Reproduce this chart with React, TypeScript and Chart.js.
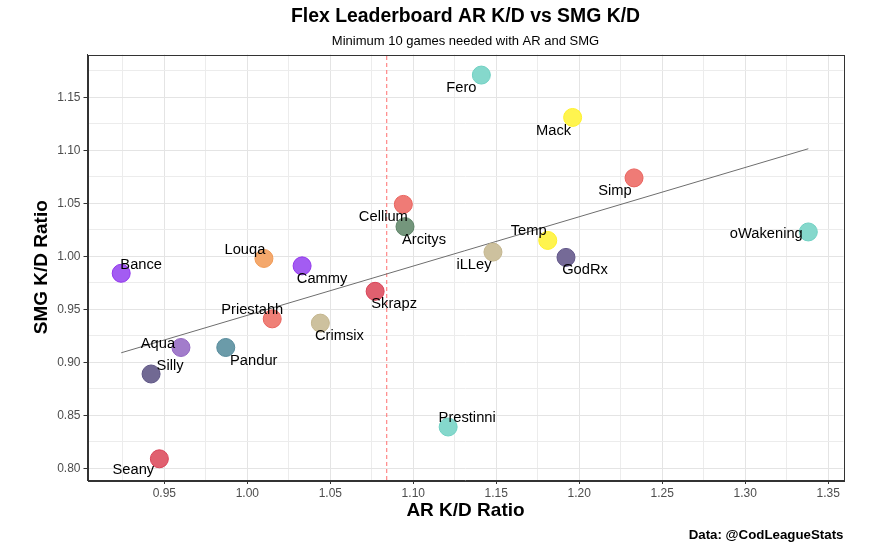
import { useEffect, useRef } from 'react'
import { Chart, registerables } from 'chart.js'

Chart.register(...registerables)

// players and their K/D ratios
const players = [
  'Bance', 'Louqa', 'Cammy', 'Cellium', 'Arcitys', 'Skrapz', 'Fero', 'Mack', 'Simp', 'Temp',
  'iLLey', 'GodRx', 'oWakening', 'Priestahh', 'Crimsix', 'Aqua', 'Pandur', 'Silly', 'Seany', 'Prestinni',
]
const arKD = [
  0.924, 1.010, 1.033, 1.094, 1.095, 1.077, 1.141, 1.196, 1.233, 1.181,
  1.148, 1.192, 1.338, 1.015, 1.044, 0.960, 0.987, 0.942, 0.947, 1.121,
]
const smgKD = [
  0.984, 0.998, 0.991, 1.049, 1.028, 0.967, 1.171, 1.131, 1.074, 1.015,
  1.004, 0.999, 1.023, 0.941, 0.937, 0.914, 0.914, 0.889, 0.809, 0.839,
]

// mean AR K/D (dashed line) and linear trend end points
const arMean = 1.084
const trendAR = [0.924, 1.338]
const trendSMG = [0.909, 1.1015]

// ticks (major every 0.05, minor in between)
const xTicks = [0.925, 0.95, 0.975, 1.0, 1.025, 1.05, 1.075, 1.1, 1.125, 1.15, 1.175, 1.2, 1.225, 1.25, 1.275, 1.3, 1.325, 1.35]
const yTicks = [0.8, 0.825, 0.85, 0.875, 0.9, 0.925, 0.95, 0.975, 1.0, 1.025, 1.05, 1.075, 1.1, 1.125, 1.15, 1.175]

const X_MIN = 0.9037
const X_MAX = 1.3592
const Y_MIN = 0.789
const Y_MAX = 1.1904

// styling
const pointFill = [
  '#a35cf2', '#f4a86c', '#a35cf2', '#ef7b76', '#74967c', '#e0606f', '#85d8cc', '#fff44f', '#ef7b76', '#fff44f',
  '#cdc19e', '#756a97', '#85d8cc', '#ef8077', '#cdc19e', '#a27ccb', '#6b9ba9', '#716993', '#e0606f', '#85d8cc',
]
const pointLine = [
  '#9236ec', '#f09a55', '#9236ec', '#e9625d', '#5c8366', '#d94257', '#6fd0c2', '#fff12a', '#e9625d', '#fff12a',
  '#c4b68e', '#62578a', '#6fd0c2', '#e9625d', '#c4b68e', '#9366c2', '#558a9b', '#5e5585', '#d94257', '#6fd0c2',
]
// label offset from point centre, px (repel-style placement)
const labelOffset: [number, number][] = [
  [20, -8], [-19, -9], [20, 13], [-20, 13], [19, 13], [19, 13], [-20, 13], [-19, 13], [-19, 13], [-19, -9],
  [-19, 13], [19, 13], [-42, 2], [-20, -9], [19, 13], [-23, -4], [28, 13], [19, -8], [-26, 11], [19, -9],
]

const FONT = '"Liberation Sans", Arial, Helvetica, sans-serif'

function isMajor(v: unknown) {
  const n = Number(v)
  return Math.abs(n * 20 - Math.round(n * 20)) < 1e-6
}

const ggPlugin = {
  id: 'ggDecor',
  afterDatasetsDraw(chart: any) {
    const { ctx } = chart
    const meta = chart.getDatasetMeta(0)
    ctx.save()
    ctx.font = `14.7px ${FONT}`
    ctx.fillStyle = '#000'
    ctx.textAlign = 'center'
    ctx.textBaseline = 'middle'
    meta.data.forEach((el: any, i: number) => {
      const [dx, dy] = labelOffset[i]
      ctx.fillText(players[i], el.x + dx, el.y + dy)
    })
    ctx.restore()
  },
  afterDraw(chart: any) {
    const { ctx, chartArea: a } = chart
    const cx = (a.left + a.right) / 2
    ctx.save()
    // panel border
    ctx.strokeStyle = '#333'
    ctx.lineWidth = 1
    ctx.strokeRect(Math.round(a.left) + 0.5, Math.round(a.top) + 0.5, Math.round(a.right - a.left), Math.round(a.bottom - a.top))

    ctx.fillStyle = '#000'
    ctx.textAlign = 'center'
    ctx.textBaseline = 'middle'
    ctx.font = `bold 19.4px ${FONT}`
    ctx.fillText('Flex Leaderboard AR K/D vs SMG K/D', cx, 17)
    ctx.font = `13px ${FONT}`
    ctx.fillText('Minimum 10 games needed with AR and SMG', cx, 41)

    ctx.font = `bold 19px ${FONT}`
    ctx.fillText('AR K/D Ratio', cx, 511)

    ctx.save()
    ctx.translate(42, (a.top + a.bottom) / 2)
    ctx.rotate(-Math.PI / 2)
    ctx.fillText('SMG K/D Ratio', 0, 0)
    ctx.restore()

    ctx.textAlign = 'right'
    ctx.font = `bold 13.3px ${FONT}`
    ctx.fillText('Data: @CodLeagueStats', a.right, 535)
    ctx.restore()
  },
}

export default function App() {
  const canvasRef = useRef<HTMLCanvasElement | null>(null)

  useEffect(() => {
    document.body.style.margin = '0'
    const ctx = canvasRef.current?.getContext('2d')
    if (!ctx) return

    const gridColor = (c: any) => (isMajor(c.tick?.value) ? '#e4e4e4' : '#ececec')
    const tickColor = (c: any) => (isMajor(c.tick?.value) ? '#333' : 'rgba(0,0,0,0)')
    const tickLabel = (v: any) => (isMajor(v) ? Number(v).toFixed(2) : '')

    const chart = new Chart(ctx, {
      type: 'scatter',
      data: {
        datasets: [
          {
            label: 'players',
            data: players.map((_, i) => ({ x: arKD[i], y: smgKD[i] })),
            backgroundColor: pointFill,
            borderColor: pointLine,
            borderWidth: 1,
            pointRadius: 9,
            pointHoverRadius: 9,
          },
          {
            type: 'line',
            label: 'trend',
            data: trendAR.map((x, i) => ({ x, y: trendSMG[i] })),
            borderColor: '#6e6e6e',
            borderWidth: 1,
            pointRadius: 0,
            fill: false,
          },
          {
            type: 'line',
            label: 'mean',
            data: [
              { x: arMean, y: Y_MIN },
              { x: arMean, y: Y_MAX },
            ],
            borderColor: '#ff6f6f',
            borderDash: [4, 3],
            borderWidth: 1,
            pointRadius: 0,
            fill: false,
          },
        ],
      } as any,
      options: {
        animation: false,
        responsive: false,
        maintainAspectRatio: false,
        layout: { padding: { top: 54.5, right: 33.5, left: 0, bottom: 0 } },
        plugins: { legend: { display: false }, tooltip: { enabled: false } },
        scales: {
          x: {
            type: 'linear',
            min: X_MIN,
            max: X_MAX,
            afterBuildTicks: (axis: any) => {
              axis.ticks = xTicks.map((value) => ({ value }))
            },
            afterFit: (axis: any) => {
              axis.height = 70
            },
            ticks: {
              autoSkip: false,
              maxRotation: 0,
              padding: 2,
              color: '#4d4d4d',
              font: { family: FONT, size: 12 },
              callback: tickLabel,
            },
            grid: { color: gridColor, tickColor, tickLength: 4, lineWidth: 1 },
            border: { color: '#333', width: 1 },
          },
          y: {
            type: 'linear',
            min: Y_MIN,
            max: Y_MAX,
            afterBuildTicks: (axis: any) => {
              axis.ticks = yTicks.map((value) => ({ value }))
            },
            afterFit: (axis: any) => {
              axis.width = 87.5
            },
            ticks: {
              autoSkip: false,
              padding: 3,
              color: '#4d4d4d',
              font: { family: FONT, size: 12 },
              callback: tickLabel,
            },
            grid: { color: gridColor, tickColor, tickLength: 4, lineWidth: 1 },
            border: { color: '#333', width: 1 },
          },
        },
      } as any,
      plugins: [ggPlugin],
    })

    return () => chart.destroy()
  }, [])

  return (
    <div style={{ width: 877, height: 550, background: '#fff' }}>
      <canvas ref={canvasRef} width={877} height={550} style={{ display: 'block', width: 877, height: 550 }} />
    </div>
  )
}
